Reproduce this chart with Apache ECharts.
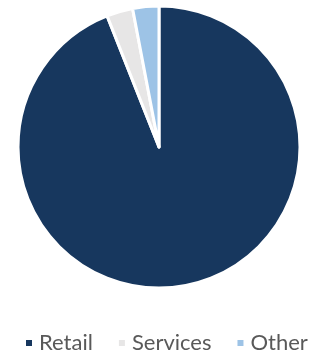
<!DOCTYPE html>
<html>
<head>
<meta charset="utf-8">
<script src="https://cdn.jsdelivr.net/npm/echarts@6/dist/echarts.min.js"></script>
<style>
html, body { margin: 0; padding: 0; background: #fff; }
#chart { width: 320px; height: 353px; }
</style>
</head>
<body>
<div id="chart"></div>
<script>
var categories = ['Retail', 'Services', 'Other'];
var values = [94, 3, 3];
var colors = ['#17375E', '#E7E6E6', '#9DC3E6'];

var chart = echarts.init(document.getElementById('chart'));
var option = {
  animation: false,
  color: colors,
  legend: {
    data: categories,
    top: 332,
    left: 24,
    padding: 0,
    icon: 'rect',
    itemWidth: 8,
    itemHeight: 8,
    itemGap: 24,
    textStyle: { fontSize: 22, color: '#595959', fontFamily: 'Lato', padding: [0, 0, 0, 1] }
  },
  series: [{
    type: 'pie',
    center: [159, 147],
    radius: [0, 141],
    startAngle: 90,
    clockwise: true,
    label: { show: false },
    labelLine: { show: false },
    itemStyle: { borderColor: '#fff', borderWidth: 3 },
    emphasis: { disabled: true },
    data: categories.map(function (c, i) { return { name: c, value: values[i] }; })
  }]
};
chart.setOption(option);
</script>
</body>
</html>
